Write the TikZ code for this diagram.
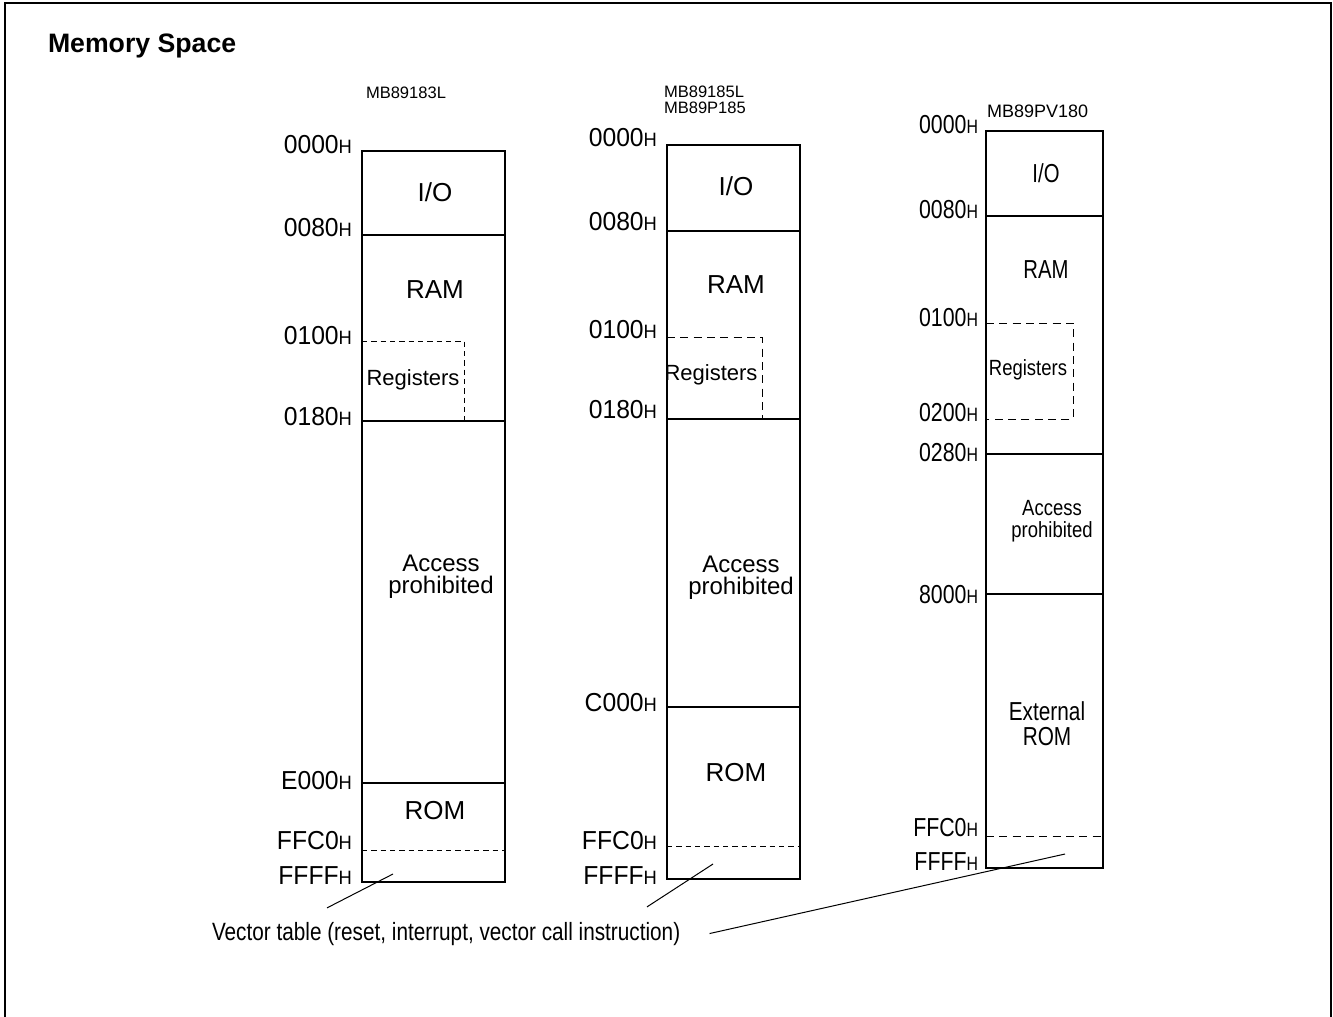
\documentclass[tikz,border=0pt]{standalone}
\usepackage{fontspec}
\setmainfont{Liberation Sans}
\usepackage{graphicx}
\usetikzlibrary{positioning}

\newcommand{\addr}[2][0.95]{\scalebox{#1}[1]{\fontsize{19.5}{20}\selectfont #2\fontsize{14.5}{15}\selectfont H}}
\newcommand{\sq}[2]{\scalebox{#1}[1]{#2}}

\begin{document}
\begin{tikzpicture}[x=0.75pt, y=-0.75pt,
    every node/.style={inner sep=0, outer sep=0},
    memframe/.style={line width=1.7pt},
    memsplit/.style={line width=1pt},
    memdash/.style={line width=0.75pt, dash pattern=on 6pt off 4pt},
    memdot/.style={line width=0.75pt, dash pattern=on 4pt off 3pt},
    addrlabel/.style={anchor=east},
    blocklabel/.style={font=\fontsize{19.5}{22}\selectfont, align=center},
    prohlabel/.style={font=\fontsize{18}{16.5}\selectfont, align=center},
    reglabel/.style={font=\fontsize{16.5}{18}\selectfont},
    chiplabel/.style={font=\fontsize{12.4}{12}\selectfont, align=left, anchor=west}]
\useasboundingbox (0,0) rectangle (1333,1016);
\draw[line width=1.5pt] (5,1020) -- (5,3) -- (1331,3) -- (1331,1020);
\node[font=\bfseries\fontsize{20}{20}\selectfont, anchor=base west] (title) at (48,53) {Memory Space};

\node[chiplabel] (chipA) at (366,93) {MB89183L};
\draw[memframe] (362,151) rectangle (505,882);
\draw[memsplit] (362,235) -- (505,235) (362,421) -- (505,421) (362,783) -- (505,783);
\draw[memdot] (362,341) -- (464,341) -- (464,421);
\draw[memdot] (362,850) -- (505,850);
\node[addrlabel] (a0000) at (352,145) {\addr{0000}};
\node[addrlabel] (a0080) at (352,228) {\addr{0080}};
\node[addrlabel] (a0100) at (352,336) {\addr{0100}};
\node[addrlabel] (a0180) at (352,417) {\addr{0180}};
\node[addrlabel] (aE000) at (352,781) {\addr{E000}};
\node[addrlabel] (aFFC0) at (352,841) {\addr{FFC0}};
\node[addrlabel] (aFFFF) at (352,876) {\addr{FFFF}};
\node[blocklabel] (ioA) at (435,192) {I/O};
\node[blocklabel] (ramA) at (435,290) {RAM};
\node[reglabel] (regA) at (413,380) {Registers};
\node[prohlabel] (prohA) at (441,577) {Access\\prohibited};
\node[blocklabel] (romA) at (435,811) {ROM};

\node[chiplabel] (chipB) at (664,100) {MB89185L\\MB89P185};
\draw[memframe] (667,145) rectangle (800,879);
\draw[memsplit] (667,231) -- (800,231) (667,419) -- (800,419) (667,707) -- (800,707);
\draw[memdash] (667,337) -- (762,337) -- (762,418) -- (667,418);
\draw[memdot] (667,846) -- (800,846);
\node[addrlabel] (b0000) at (657,138) {\addr{0000}};
\node[addrlabel] (b0080) at (657,222) {\addr{0080}};
\node[addrlabel] (b0100) at (657,330) {\addr{0100}};
\node[addrlabel] (b0180) at (657,410) {\addr{0180}};
\node[addrlabel] (bC000) at (657,703) {\addr{C000}};
\node[addrlabel] (bFFC0) at (657,841) {\addr{FFC0}};
\node[addrlabel] (bFFFF) at (657,876) {\addr{FFFF}};
\node[blocklabel] (ioB) at (736,186) {I/O};
\node[blocklabel] (ramB) at (736,285) {RAM};
\node[reglabel] (regB) at (711,375) {Registers};
\node[prohlabel] (prohB) at (741,578) {Access\\prohibited};
\node[blocklabel] (romB) at (736,773) {ROM};

\node[chiplabel, font=\fontsize{13.5}{14}\selectfont] (chipC) at (987,111) {MB89PV180};
\draw[memframe] (986,131) rectangle (1103,868);
\draw[memsplit] (986,216) -- (1103,216) (986,454) -- (1103,454) (986,594) -- (1103,594);
\draw[memdash] (986,323) -- (1073,323) -- (1073,419) -- (986,419);
\draw[memdash] (986,836) -- (1103,836);
\node[addrlabel] (c0000) at (978,125) {\addr[0.82]{0000}};
\node[addrlabel] (c0080) at (978,210) {\addr[0.82]{0080}};
\node[addrlabel] (c0100) at (978,318) {\addr[0.82]{0100}};
\node[addrlabel] (c0200) at (978,413) {\addr[0.82]{0200}};
\node[addrlabel] (c0280) at (978,453) {\addr[0.82]{0280}};
\node[addrlabel] (c8000) at (978,595) {\addr[0.82]{8000}};
\node[addrlabel] (cFFC0) at (978,828) {\addr[0.82]{FFC0}};
\node[addrlabel] (cFFFF) at (978,862) {\addr[0.82]{FFFF}};
\node[blocklabel] (ioC) at (1046,173) {\sq{0.78}{I/O}};
\node[blocklabel] (ramC) at (1046,270) {\sq{0.78}{RAM}};
\node[reglabel] (regC) at (1028,370) {\sq{0.84}{Registers}};
\node[prohlabel, font=\fontsize{16.5}{16.5}\selectfont] (prohC) at (1052,521) {\sq{0.84}{Access}\\\sq{0.84}{prohibited}};
\node[blocklabel, font=\fontsize{19.5}{18.75}\selectfont] (extC) at (1047,724) {\sq{0.8}{External}\\\sq{0.8}{ROM}};

\node[font=\fontsize{18.75}{20}\selectfont, anchor=base west] (vt) at (212,940) {\sq{0.83}{Vector table (reset, interrupt, vector call instruction)}};
\coordinate (vecA) at (393,874);
\coordinate (vecB) at (713,864);
\coordinate (vecC) at (1065,854);
\draw[line width=0.75pt] ([shift={(115,-14)}]vt.north west) -- (vecA);
\draw[line width=0.75pt] ([shift={(435,-15)}]vt.north west) -- (vecB);
\draw[line width=0.75pt] ([xshift=22pt]vt.east) -- (vecC);
\end{tikzpicture}
\end{document}
